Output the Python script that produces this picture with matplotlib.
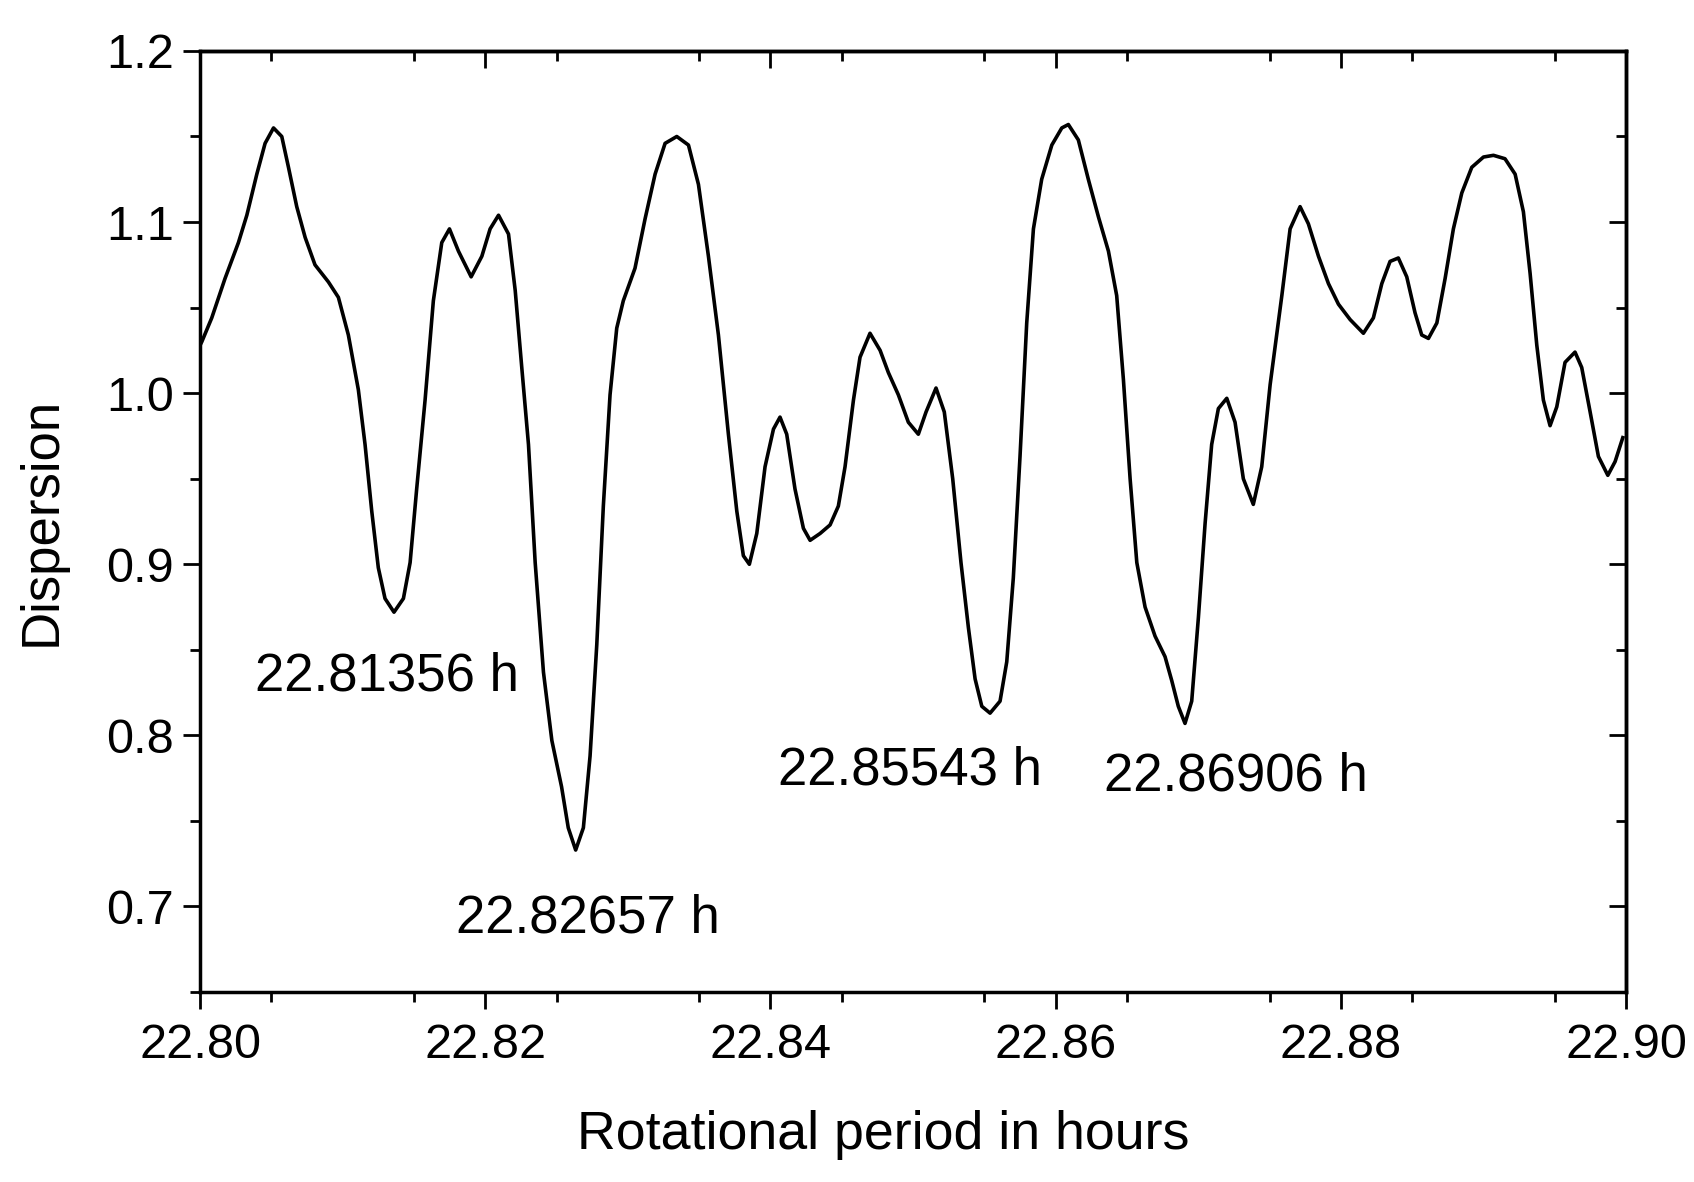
import matplotlib
matplotlib.use("Agg")
import matplotlib.pyplot as plt

plt.rcParams['font.family'] = ['Liberation Sans', 'DejaVu Sans']

# dispersion curve
period = [
    22.80000, 22.80012, 22.80082, 22.80175, 22.80269, 22.80328, 22.80398, 22.80456,
    22.80515, 22.80573, 22.80620, 22.80678, 22.80737, 22.80806, 22.80900, 22.80970,
    22.81040, 22.81110, 22.81157, 22.81204, 22.81250, 22.81297, 22.81360, 22.81426,
    22.81473, 22.81519, 22.81578, 22.81636, 22.81695, 22.81749, 22.81812, 22.81901,
    22.81976, 22.82034, 22.82093, 22.82163, 22.82210, 22.82256, 22.82303, 22.82350,
    22.82408, 22.82467, 22.82535, 22.82582, 22.82634, 22.82688, 22.82735, 22.82782,
    22.82828, 22.82875, 22.82922, 22.82968, 22.83050, 22.83121, 22.83191, 22.83261,
    22.83343, 22.83425, 22.83495, 22.83565, 22.83635, 22.83705, 22.83764, 22.83810,
    22.83852, 22.83904, 22.83962, 22.84021, 22.84067, 22.84114, 22.84172, 22.84231,
    22.84278, 22.84348, 22.84418, 22.84476, 22.84523, 22.84582, 22.84628, 22.84698,
    22.84769, 22.84827, 22.84897, 22.84967, 22.85037, 22.85091, 22.85161, 22.85219,
    22.85278, 22.85336, 22.85388, 22.85435, 22.85482, 22.85540, 22.85610, 22.85657,
    22.85703, 22.85750, 22.85797, 22.85844, 22.85902, 22.85973, 22.86043, 22.86089,
    22.86159, 22.86229, 22.86300, 22.86370, 22.86428, 22.86475, 22.86522, 22.86569,
    22.86627, 22.86697, 22.86767, 22.86814, 22.86860, 22.86907, 22.86954, 22.87001,
    22.87048, 22.87094, 22.87141, 22.87200, 22.87258, 22.87316, 22.87386, 22.87445,
    22.87504, 22.87586, 22.87644, 22.87714, 22.87772, 22.87843, 22.87913, 22.87983,
    22.88065, 22.88158, 22.88228, 22.88287, 22.88345, 22.88403, 22.88462, 22.88520,
    22.88567, 22.88614, 22.88673, 22.88731, 22.88789, 22.88848, 22.88918, 22.89000,
    22.89070, 22.89151, 22.89222, 22.89280, 22.89327, 22.89374, 22.89420, 22.89467,
    22.89514, 22.89572, 22.89642, 22.89689, 22.89748, 22.89806, 22.89872, 22.89923,
    22.89977,
]
dispersion = [
    1.028, 1.030, 1.044, 1.067, 1.088, 1.104, 1.128, 1.146,
    1.155, 1.150, 1.132, 1.109, 1.091, 1.075, 1.065, 1.056,
    1.034, 1.002, 0.970, 0.931, 0.898, 0.880, 0.872, 0.880,
    0.901, 0.944, 0.996, 1.054, 1.088, 1.096, 1.083, 1.068,
    1.080, 1.096, 1.104, 1.093, 1.060, 1.015, 0.970, 0.901,
    0.837, 0.797, 0.770, 0.746, 0.733, 0.746, 0.788, 0.853,
    0.934, 0.999, 1.038, 1.054, 1.073, 1.102, 1.128, 1.146,
    1.150, 1.145, 1.122, 1.080, 1.034, 0.976, 0.931, 0.905,
    0.900, 0.918, 0.957, 0.979, 0.986, 0.976, 0.944, 0.921,
    0.914, 0.918, 0.923, 0.934, 0.957, 0.996, 1.021, 1.035,
    1.025, 1.012, 0.999, 0.983, 0.976, 0.989, 1.003, 0.989,
    0.950, 0.901, 0.863, 0.833, 0.817, 0.813, 0.820, 0.843,
    0.892, 0.963, 1.041, 1.096, 1.125, 1.145, 1.155, 1.157,
    1.148, 1.125, 1.103, 1.083, 1.057, 1.008, 0.950, 0.901,
    0.875, 0.858, 0.846, 0.832, 0.817, 0.807, 0.820, 0.869,
    0.924, 0.970, 0.991, 0.997, 0.983, 0.950, 0.935, 0.957,
    1.005, 1.057, 1.096, 1.109, 1.099, 1.080, 1.064, 1.052,
    1.043, 1.035, 1.044, 1.064, 1.077, 1.079, 1.068, 1.047,
    1.034, 1.032, 1.041, 1.067, 1.096, 1.117, 1.132, 1.138,
    1.139, 1.137, 1.128, 1.106, 1.070, 1.028, 0.996, 0.981,
    0.992, 1.018, 1.024, 1.015, 0.989, 0.963, 0.952, 0.960,
    0.974,
]

# minima labels and where they sit
label_text = ["22.81356 h", "22.82657 h", "22.85543 h", "22.86906 h"]
label_x = [22.80382, 22.81797, 22.84050, 22.86342]
label_y = [0.8262, 0.6849, 0.7714, 0.7679]

fig = plt.figure(figsize=(16.94, 11.82), dpi=100)
ax = fig.add_axes([0.1181, 0.1607, 0.8418, 0.7962])

ax.plot(period, dispersion, color='black', lw=2.6, solid_joinstyle='round')

for t, x, y in zip(label_text, label_x, label_y):
    ax.text(x, y, t, fontsize=38, ha='left', va='baseline')

ax.set_xlim(22.80, 22.90)
ax.set_ylim(0.65, 1.2)
ax.set_xticks([22.80, 22.82, 22.84, 22.86, 22.88, 22.90])
ax.set_xticklabels(["22.80", "22.82", "22.84", "22.86", "22.88", "22.90"])
ax.set_xticks([22.805 + 0.01 * i for i in range(10)], minor=True)
ax.set_yticks([0.7, 0.8, 0.9, 1.0, 1.1, 1.2])
ax.set_yticklabels(["0.7", "0.8", "0.9", "1.0", "1.1", "1.2"])
ax.set_yticks([0.65, 0.75, 0.85, 0.95, 1.05, 1.15], minor=True)

ax.tick_params(which='major', direction='out', length=12, width=2, labelsize=35, pad=7)
ax.tick_params(axis='x', which='major', pad=10)
ax.tick_params(which='minor', direction='out', length=7, width=2)
for s in ax.spines.values():
    s.set_linewidth(2.5)

# top and right ticks point inward, no labels
top = ax.secondary_xaxis('top')
top.set_xticks(ax.get_xticks())
top.set_xticks([22.805 + 0.01 * i for i in range(10)], minor=True)
top.tick_params(which='major', direction='in', length=12, width=2, labeltop=False)
top.tick_params(which='minor', direction='in', length=7, width=2)
top.spines['top'].set_linewidth(2.5)
right = ax.secondary_yaxis('right')
right.set_yticks([0.7, 0.8, 0.9, 1.0, 1.1, 1.2])
right.set_yticks([0.65, 0.75, 0.85, 0.95, 1.05, 1.15], minor=True)
right.tick_params(which='major', direction='in', length=12, width=2, labelright=False)
right.tick_params(which='minor', direction='in', length=7, width=2)
right.spines['right'].set_linewidth(2.5)

ax.set_xlabel("Rotational period in hours", fontsize=38.7, labelpad=28)
ax.xaxis.set_label_coords(0.479, -0.125)
ax.set_ylabel("Dispersion", fontsize=38, labelpad=28)

fig.savefig("out.png", dpi=100)
